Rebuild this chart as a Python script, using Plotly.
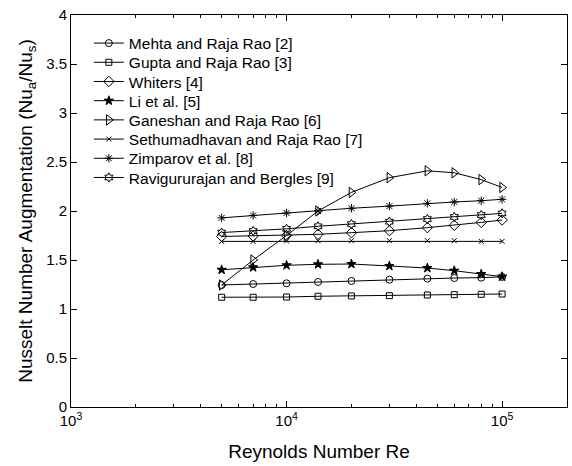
import plotly.graph_objects as go

re_vals = [5000, 7000, 10000, 14000, 20000, 30000, 45000, 60000, 80000, 100000]

mehta = [1.245, 1.255, 1.262, 1.276, 1.286, 1.299, 1.31, 1.316, 1.32, 1.327]
gupta = [1.12, 1.12, 1.122, 1.13, 1.133, 1.136, 1.143, 1.146, 1.15, 1.153]
whiters = [1.74, 1.745, 1.75, 1.762, 1.779, 1.799, 1.83, 1.854, 1.884, 1.908]
li = [1.40, 1.425, 1.446, 1.456, 1.459, 1.439, 1.418, 1.391, 1.357, 1.33]
ganeshan = [1.245, 1.50, 1.75, 2.00, 2.19, 2.34, 2.41, 2.39, 2.32, 2.24]
sethu = [1.69, 1.69, 1.694, 1.697, 1.697, 1.697, 1.697, 1.697, 1.69, 1.69]
zimparov = [1.93, 1.955, 1.98, 2.0, 2.028, 2.05, 2.078, 2.092, 2.105, 2.119]
ravi = [1.78, 1.796, 1.818, 1.844, 1.867, 1.891, 1.918, 1.939, 1.959, 1.976]

names = ["Mehta and Raja Rao [2]", "Gupta and Raja Rao [3]", "Whiters [4]",
         "Li et al. [5]", "Ganeshan and Raja Rao [6]",
         "Sethumadhavan and Raja Rao [7]", "Zimparov et al. [8]",
         "Ravigururajan and Bergles [9]"]
series = [mehta, gupta, whiters, li, ganeshan, sethu, zimparov, ravi]
symbols = ["circle-open", "square-open", "diamond-open", "star",
           "triangle-right-open", "x-thin-open", "asterisk-open", "hexagram-open"]
sizes = [7, 6, 8, 7, 9, 5, 7, 7]

x_ticks = [1e3, 1e4, 1e5]
x_ticktext = ["10<sup>3</sup>", "10<sup>4</sup>", "10<sup>5</sup>"]
y_ticks = [0, 0.5, 1, 1.5, 2, 2.5, 3, 3.5, 4]
y_ticktext = ["0", "0.5", "1", "1.5", "2", "2.5", "3", "3.5", "4"]

fig = go.Figure()
legend_layout = {}
top_px, bottom_px = 15, 407
first_entry_px, entry_step_px = 43.5, 19.2
for i, (name, vals, sym, sz) in enumerate(zip(names, series, symbols, sizes)):
    lg = "legend" if i == 0 else f"legend{i + 1}"
    fig.add_trace(go.Scatter(
        x=re_vals, y=vals, name=name, mode="lines+markers",
        line=dict(color="black", width=1),
        marker=dict(symbol=sym, size=sz, color="black",
                    line=dict(color="black", width=1)),
        legend=lg,
    ))
    ypix = first_entry_px + i * entry_step_px
    legend_layout[lg] = dict(
        x=0.036, y=(bottom_px - ypix) / (bottom_px - top_px),
        xanchor="left", yanchor="middle",
        bgcolor="rgba(0,0,0,0)", borderwidth=0,
        font=dict(size=15.5), itemwidth=30,
    )

font = "Liberation Sans, Arial, Helvetica, sans-serif"
fig.update_layout(
    width=572, height=466,
    margin=dict(l=71, r=5, t=15, b=59),
    paper_bgcolor="white", plot_bgcolor="white",
    font=dict(family=font, size=15, color="black"),
    showlegend=True,
    xaxis=dict(type="log", range=[3, 5.30103],
               tickvals=x_ticks, ticktext=x_ticktext,
               ticks="inside", ticklen=6, tickcolor="black",
               minor=dict(ticks="inside", ticklen=3, tickcolor="black",
                          dtick="D1", showgrid=False),
               showline=True, linecolor="black", linewidth=1, mirror="ticks",
               showgrid=False, zeroline=False,
               title=dict(text="Reynolds Number Re", font=dict(size=19), standoff=16),
               tickfont=dict(size=15)),
    yaxis=dict(range=[0, 4], tickvals=y_ticks, ticktext=y_ticktext,
               ticks="inside", ticklen=6, tickcolor="black",
               showline=True, linecolor="black", linewidth=1, mirror="ticks",
               showgrid=False, zeroline=False,
               title=dict(text="Nusselt Number Augmentation (Nu<sub>a</sub>/Nu<sub>s</sub>)",
                          font=dict(size=19), standoff=8),
               tickfont=dict(size=15)),
    **legend_layout,
)

fig.write_html("out.html")
